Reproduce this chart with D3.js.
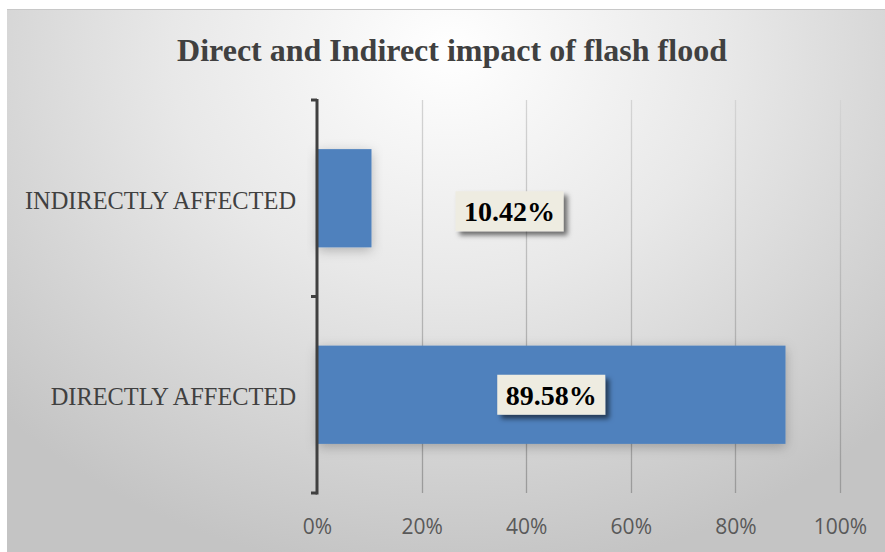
<!DOCTYPE html>
<html><head><meta charset="utf-8">
<script src="https://cdn.jsdelivr.net/npm/d3@7"></script>
<style>html,body{margin:0;padding:0;background:#fff;}svg{display:block;}</style>
</head><body>
<svg id="chart" width="885" height="552"></svg>
<script>
const title = "Direct and Indirect impact of flash flood";
const categories = ["INDIRECTLY AFFECTED", "DIRECTLY AFFECTED"];
const values = [10.42, 89.58];
const dataLabels = ["10.42%", "89.58%"];
const xTicks = [0, 20, 40, 60, 80, 100];

const svg = d3.select("#chart");
const W = 885, H = 552;
const frame = {x: 7, y: 9};
const m = {left: 317, right: 45, top: 100, bottom: 59};

const defs = svg.append("defs");
const rg = defs.append("radialGradient").attr("id", "bg")
  .attr("gradientUnits", "userSpaceOnUse")
  .attr("cx", 450).attr("cy", 50).attr("r", 620)
  .attr("gradientTransform", "translate(450,50) scale(1,0.85) translate(-450,-50)");
rg.append("stop").attr("offset", 0).attr("stop-color", "#ffffff");
rg.append("stop").attr("offset", 0.45).attr("stop-color", "#e8e8e8");
rg.append("stop").attr("offset", 1).attr("stop-color", "#c4c4c4");

const gg = defs.append("linearGradient").attr("id", "gridg")
  .attr("gradientUnits", "userSpaceOnUse")
  .attr("x1", 0).attr("y1", m.top).attr("x2", 0).attr("y2", H - m.bottom);
gg.append("stop").attr("offset", 0).attr("stop-color", "#d4d4d4");
gg.append("stop").attr("offset", 1).attr("stop-color", "#9a9a9a");

const fBar = defs.append("filter").attr("id", "barShadow")
  .attr("x", "-20%").attr("y", "-40%").attr("width", "140%").attr("height", "180%");
fBar.append("feDropShadow").attr("dx", 0).attr("dy", 3).attr("stdDeviation", 6)
  .attr("flood-color", "#000").attr("flood-opacity", 0.25);

const fLab = defs.append("filter").attr("id", "labShadow")
  .attr("x", "-20%").attr("y", "-30%").attr("width", "150%").attr("height", "170%");
fLab.append("feDropShadow").attr("dx", 4).attr("dy", 4).attr("stdDeviation", 2.5)
  .attr("flood-color", "#000").attr("flood-opacity", 0.55);

// background
svg.append("rect").attr("x", frame.x).attr("y", frame.y)
  .attr("width", W - frame.x).attr("height", H - frame.y)
  .attr("fill", "url(#bg)");
svg.append("line").attr("x1", frame.x).attr("x2", W).attr("y1", frame.y + 0.5).attr("y2", frame.y + 0.5)
  .attr("stroke", "#c8c8c8").attr("stroke-width", 1);

// title
svg.append("text").attr("x", 452).attr("y", 61)
  .attr("text-anchor", "middle")
  .style("font-family", "'Liberation Serif','Times New Roman',serif")
  .style("font-weight", "bold").style("font-size", "32px")
  .attr("fill", "#404040").text(title);

const x = d3.scaleLinear().domain([0, 100]).range([m.left, W - m.right]);
const y = d3.scaleBand().domain(categories).range([m.top, H - m.bottom])
  .paddingInner(0.5).paddingOuter(0.25);

// gridlines
svg.append("g").selectAll("line").data(xTicks.filter(d => d > 0)).join("line")
  .attr("x1", d => Math.round(x(d)) + 0.5).attr("x2", d => Math.round(x(d)) + 0.5)
  .attr("y1", m.top).attr("y2", H - m.bottom)
  .attr("stroke", "url(#gridg)").attr("stroke-width", 1.3);

// bars
svg.append("g").selectAll("rect").data(values).join("rect")
  .attr("x", x(0) + 1).attr("y", (d, i) => y(categories[i]))
  .attr("width", d => x(d) - x(0) - 1).attr("height", y.bandwidth())
  .attr("fill", "#4f81bd").attr("filter", "url(#barShadow)");

// x axis labels
const xAxis = d3.axisBottom(x).tickValues(xTicks).tickFormat(d => d + "%").tickSize(0).tickPadding(0);
const gx = svg.append("g").attr("transform", `translate(0,${H - m.bottom + 41})`).call(xAxis);
gx.select(".domain").remove();
gx.selectAll("text").attr("dy", 0).attr("y", 0)
  .style("font-family", "'Open Sans',Calibri,sans-serif").style("font-size", "21px")
  .attr("fill", "#595959");

// y axis
const yAxis = d3.axisLeft(y).tickSize(0).tickPadding(21);
const gy = svg.append("g").attr("transform", `translate(${m.left},0)`).call(yAxis);
gy.select(".domain").remove();
gy.selectAll("text")
  .style("font-family", "'Liberation Serif','Times New Roman',serif").style("font-size", "24.4px")
  .attr("fill", "#404040").attr("dy", "0.42em");
svg.append("line").attr("x1", m.left).attr("x2", m.left).attr("y1", m.top - 1).attr("y2", H - m.bottom + 1.5)
  .attr("stroke", "#404040").attr("stroke-width", 3);
const bounds = [m.top, m.top + y.step(), H - m.bottom];
svg.append("g").selectAll("line").data(bounds).join("line")
  .attr("x1", m.left - 6).attr("x2", m.left).attr("y1", d => d).attr("y2", d => d)
  .attr("stroke", "#404040").attr("stroke-width", 3);

// data labels
const labOffset = [138, 0];
const lab = svg.append("g").selectAll("g").data(values).join("g")
  .attr("transform", (d, i) => {
    const cx = i === 0 ? x(d) + labOffset[i] : (x(0) + x(d)) / 2;
    const cy = y(categories[i]) + y.bandwidth() / 2 + (i === 0 ? 13 : 0);
    return `translate(${cx},${cy})`;
  });
lab.append("rect").attr("x", -54).attr("y", -20).attr("width", 108).attr("height", 40)
  .attr("fill", "#eeece1").attr("filter", "url(#labShadow)");
lab.append("text").attr("text-anchor", "middle").attr("dy", "0.35em")
  .style("font-family", "'Liberation Serif','Times New Roman',serif")
  .style("font-weight", "bold").style("font-size", "28px")
  .attr("fill", "#000").text((d, i) => dataLabels[i]);
</script>
</body></html>
